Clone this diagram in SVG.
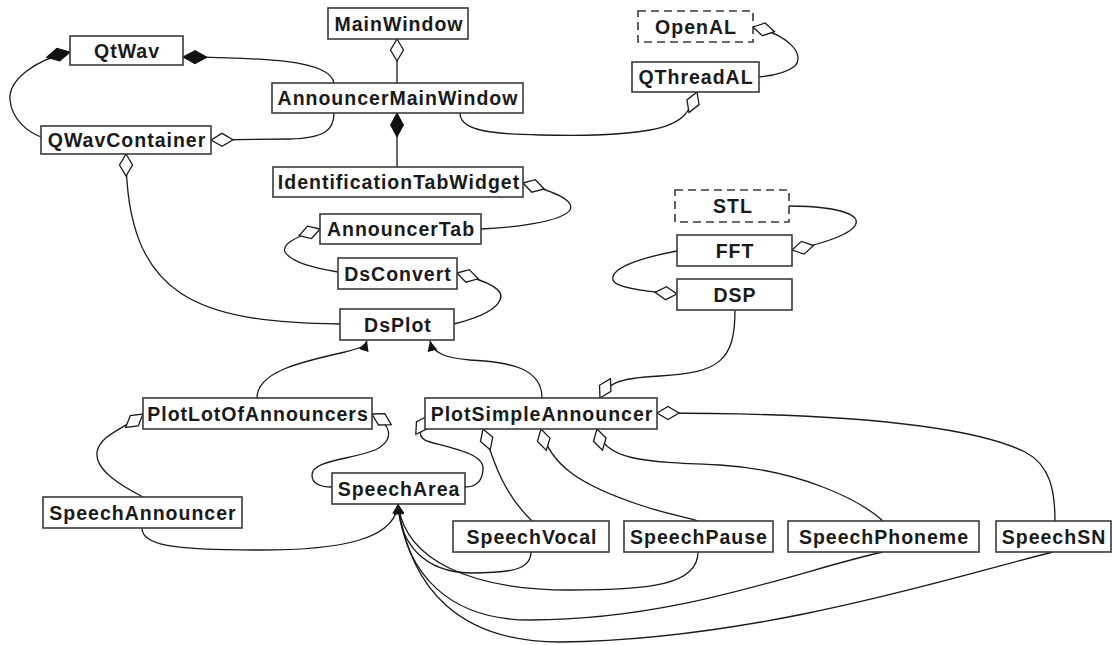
<svg xmlns="http://www.w3.org/2000/svg" width="1112" height="645" viewBox="0 0 1112 645">
<style>
.n rect{fill:#fff;stroke:#3a3a3a;stroke-width:1.6}
.n rect.d{stroke-dasharray:8,5}
.n text{font-family:"Liberation Sans",Arial,sans-serif;font-weight:bold;font-size:19.5px;letter-spacing:1px;fill:#1a1a1a;text-anchor:middle}
#edges path{fill:none;stroke:#1a1a1a;stroke-width:1.3}
.ao{marker-start:url(#diaO)}
.af{marker-start:url(#diaF)}
.ar{marker-end:url(#arr)}
</style>
<defs>
<marker id="diaO" markerUnits="userSpaceOnUse" markerWidth="30" markerHeight="20" refX="0" refY="0" orient="auto" overflow="visible"><path d="M0,0 L11,-6.5 L22,0 L11,6.5 Z" fill="#fff" stroke="#1a1a1a" stroke-width="1.3"/></marker>
<marker id="diaF" markerUnits="userSpaceOnUse" markerWidth="30" markerHeight="20" refX="0" refY="0" orient="auto" overflow="visible"><path d="M0,0 L12,-6.5 L24,0 L12,6.5 Z" fill="#111" stroke="#111" stroke-width="1"/></marker>
<marker id="arr" markerUnits="userSpaceOnUse" markerWidth="12" markerHeight="12" refX="0" refY="0" orient="auto" overflow="visible"><path d="M0,0 L-10,-5 L-10,5 Z" fill="#111"/></marker>
</defs>
<rect width="1112" height="645" fill="#fff"/>
<g id="edges">
<path class="af" d="M70,52 C35,60 8,80 10,100 C12,120 28,132 41,137"/>
<path class="af" d="M183,57 C250,58 330,58 334,83"/>
<path class="ao" d="M211,140 L290,139 C325,138 334,130 334,113"/>
<path class="ao" d="M397,39 L397,83"/>
<path class="af" d="M397,113 L397,167"/>
<path class="ao" d="M753,27 C790,35 805,55 795,66 C785,74 770,76 759,77"/>
<path class="ao" d="M697,92 C690,110 685,124 650,130 C620,135 590,136 540,135 C480,134 460,128 460,113"/>
<path class="ao" d="M523,183 C555,192 575,200 570,210 C562,222 510,228 481,229"/>
<path class="ao" d="M320,229 C292,238 282,245 285,252 C292,263 315,268 338,272"/>
<path class="ao" d="M457,273 C490,282 505,290 500,300 C495,312 470,320 454,324"/>
<path class="ao" d="M126,154 C126,300 200,322 340,324"/>
<path class="ao" d="M792,250 C840,240 862,228 855,218 C845,208 810,206 789,206"/>
<path class="ao" d="M677,294 C650,292 615,288 613,280 C610,268 640,258 677,251"/>
<path class="ao" d="M600,398 C607,385 615,378 660,376 C720,373 735,360 735,310"/>
<path class="ar" d="M257,398 C257,372 300,362 345,352 C360,348 365,347 367,341"/>
<path class="ar" d="M542,398 C542,368 510,362 470,360 C445,358 433,353 430,341"/>
<path class="ao" d="M143,414 C125,428 100,435 97,452 C95,470 120,485 143,497"/>
<path class="ao" d="M372,414 C392,425 395,440 375,450 C350,460 312,460 312,475 C312,485 322,487 332,487"/>
<path class="ao" d="M428,416 C420,428 415,438 430,442 C460,450 485,455 483,470 C482,482 475,487 465,487"/>
<path class="ao" d="M483,429 C492,455 500,490 532,521"/>
<path class="ao" d="M541,429 C550,465 580,485 640,505 C670,515 690,518 698,521"/>
<path class="ao" d="M597,429 C605,460 640,462 720,465 C800,470 860,500 883,521"/>
<path class="ao" d="M657,413 C800,413 960,420 1025,452 C1050,465 1055,490 1055,521"/>
<path class="ar" d="M142,528 C142,545 170,550 260,550 C340,550 395,540 398,504"/>
<path class="ar" d="M531,552 C531,570 510,573 470,573 C425,572 400,545 398,504"/>
<path class="ar" d="M698,552 C698,585 650,590 570,590 C470,590 405,560 398,504"/>
<path class="ar" d="M883,552 C800,570 680,620 530,620 C450,620 405,575 398,504"/>
<path class="ar" d="M1053,552 C960,575 760,640 560,642 C460,642 410,590 398,504"/>
</g>
<g id="QtWav" class="n"><rect x="70" y="36" width="113" height="29"/><text x="127" y="57.5">QtWav</text></g>
<g id="MainWindow" class="n"><rect x="328" y="8" width="140" height="31"/><text x="399" y="30.5">MainWindow</text></g>
<g id="AnnouncerMainWindow" class="n"><rect x="272" y="83" width="251" height="30"/><text x="398" y="105">AnnouncerMainWindow</text></g>
<g id="QWavContainer" class="n"><rect x="41" y="126" width="170" height="28"/><text x="127" y="147">QWavContainer</text></g>
<g id="OpenAL" class="n"><rect class="d" x="638" y="11" width="115" height="31"/><text x="696" y="33.5">OpenAL</text></g>
<g id="QThreadAL" class="n"><rect x="632" y="62" width="127" height="30"/><text x="696" y="84">QThreadAL</text></g>
<g id="IdentificationTabWidget" class="n"><rect x="273" y="167" width="250" height="30"/><text x="399" y="189">IdentificationTabWidget</text></g>
<g id="AnnouncerTab" class="n"><rect x="320" y="214" width="161" height="30"/><text x="401" y="236">AnnouncerTab</text></g>
<g id="DsConvert" class="n"><rect x="338" y="258" width="119" height="31"/><text x="398" y="280.5">DsConvert</text></g>
<g id="DsPlot" class="n"><rect x="340" y="309" width="114" height="31"/><text x="398" y="331.5">DsPlot</text></g>
<g id="STL" class="n"><rect class="d" x="675" y="190" width="114" height="32"/><text x="733" y="213">STL</text></g>
<g id="FFT" class="n"><rect x="677" y="235" width="115" height="31"/><text x="735" y="257.5">FFT</text></g>
<g id="DSP" class="n"><rect x="677" y="279" width="115" height="31"/><text x="735" y="301.5">DSP</text></g>
<g id="PlotLotOfAnnouncers" class="n"><rect x="143" y="398" width="229" height="31"/><text x="258" y="420.5">PlotLotOfAnnouncers</text></g>
<g id="PlotSimpleAnnouncer" class="n"><rect x="425" y="398" width="232" height="31"/><text x="542" y="420.5">PlotSimpleAnnouncer</text></g>
<g id="SpeechAnnouncer" class="n"><rect x="43" y="497" width="199" height="31"/><text x="143" y="519.5">SpeechAnnouncer</text></g>
<g id="SpeechArea" class="n"><rect x="332" y="473" width="133" height="31"/><text x="399" y="495.5">SpeechArea</text></g>
<g id="SpeechVocal" class="n"><rect x="453" y="521" width="156" height="31"/><text x="532" y="543.5">SpeechVocal</text></g>
<g id="SpeechPause" class="n"><rect x="624" y="521" width="149" height="31"/><text x="699" y="543.5">SpeechPause</text></g>
<g id="SpeechPhoneme" class="n"><rect x="788" y="521" width="191" height="31"/><text x="884" y="543.5">SpeechPhoneme</text></g>
<g id="SpeechSN" class="n"><rect x="996" y="521" width="115" height="31"/><text x="1054" y="543.5">SpeechSN</text></g>
</svg>
